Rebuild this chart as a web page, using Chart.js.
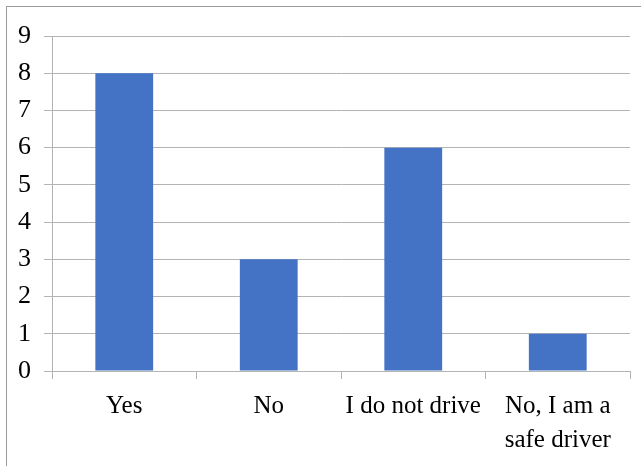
<!DOCTYPE html>
<html>
<head>
<meta charset="utf-8">
<script src="https://cdn.jsdelivr.net/npm/chart.js@4"></script>
<style>
  body { margin: 0; background: #fff; }
  #wrap { position: absolute; left: 0; top: 0; width: 641px; height: 466px; }
  #frame { position: absolute; left: 6px; top: 6px; width: 700px; height: 500px;
           border-left: 1px solid #9a9a9a; border-top: 1px solid #9a9a9a; }
</style>
</head>
<body>
<div id="wrap">
  <div id="frame"></div>
  <canvas id="chart" width="641" height="466"></canvas>
</div>
<script>
var categories = ['Yes', 'No', 'I do not drive', ['No, I am a', 'safe driver']];
var counts = [8, 3, 6, 1];
var yMin = 0;
var yMax = 9;

var gridColor = '#b4b4b4';
var serif = '"Liberation Serif", "Times New Roman", serif';

var ctx = document.getElementById('chart').getContext('2d');
var chart = new Chart(ctx, {
	type: 'bar',
	data: {
		labels: categories,
		datasets: [{
			data: counts,
			backgroundColor: '#4472C4',
			borderWidth: 0,
			categoryPercentage: 0.4,
			barPercentage: 1
		}]
	},
	options: {
		responsive: false,
		animation: false,
		layout: { padding: { top: 36, right: 11, left: 0, bottom: 0 } },
		plugins: { legend: { display: false }, tooltip: { enabled: false } },
		scales: {
			x: {
				grid: { drawOnChartArea: false, tickLength: 8, color: gridColor, offset: true },
				border: { color: gridColor },
				ticks: { color: '#000', font: { family: serif, size: 25, lineHeight: 1.35 }, padding: 11, maxRotation: 0 },
				afterFit: function(scale) { scale.height = 95; }
			},
			y: {
				min: yMin,
				max: yMax,
				grid: { tickLength: 8, color: gridColor },
				border: { color: gridColor },
				ticks: { stepSize: 1, color: '#000', font: { family: serif, size: 26 }, padding: 13 },
				afterFit: function(scale) { scale.width = 52; }
			}
		}
	}
});
</script>
</body>
</html>
